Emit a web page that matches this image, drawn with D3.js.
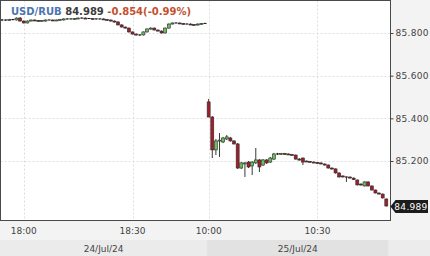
<!DOCTYPE html>
<html>
<head>
<meta charset="utf-8">
<script src="https://cdn.jsdelivr.net/npm/d3@7"></script>
<style>
  body { margin: 0; background: #f3f3f3; }
  svg { display: block; font-family: "DejaVu Sans", sans-serif; }
  .tick text { fill: #444; font-size: 9px; }
</style>
</head>
<body>
<div id="chart"></div>
<script>
// minute candles, two sessions (24/Jul evening, 25/Jul morning)
const times = [
  "17:54","17:55","17:56","17:57","17:58","17:59","18:00","18:01","18:02","18:03",
  "18:04","18:05","18:06","18:07","18:08","18:09","18:10","18:11","18:12","18:13",
  "18:14","18:15","18:16","18:17","18:18","18:19","18:20","18:21","18:22","18:23",
  "18:24","18:25","18:26","18:27","18:28","18:29","18:30","18:31","18:32","18:33",
  "18:34","18:35","18:36","18:37","18:38","18:39","18:40","18:41","18:42","18:43",
  "18:44","18:45","18:46","18:47","18:48","18:49","18:50",
  "10:00","10:01","10:02","10:03","10:04","10:05","10:06","10:07","10:08","10:09",
  "10:10","10:11","10:12","10:13","10:14","10:15","10:16","10:17","10:18","10:19",
  "10:20","10:21","10:22","10:23","10:24","10:25","10:26","10:27","10:28","10:29",
  "10:30","10:31","10:32","10:33","10:34","10:35","10:36","10:37","10:38","10:39",
  "10:40","10:41","10:42","10:43","10:44","10:45","10:46","10:47","10:48","10:49"
];
const sessionDays = ["24/Jul/24", "25/Jul/24"];

const opens = [
  85.861,85.861,85.861,85.863,85.861,85.870,85.856,85.847,85.856,85.861,
  85.859,85.856,85.856,85.861,85.861,85.859,85.861,85.861,85.866,85.866,
  85.866,85.868,85.870,85.870,85.868,85.868,85.866,85.866,85.866,85.863,
  85.861,85.856,85.852,85.838,85.828,85.823,85.805,85.795,85.791,85.791,
  85.805,85.819,85.823,85.814,85.809,85.800,85.823,85.842,85.847,85.847,
  85.845,85.842,85.842,85.840,85.838,85.842,85.845,
  85.477,85.406,85.252,85.294,85.289,85.303,85.308,85.294,85.280,85.167,
  85.186,85.195,85.177,85.191,85.205,85.181,85.205,85.195,85.209,85.233,
  85.233,85.235,85.233,85.230,85.228,85.209,85.214,85.200,85.198,85.195,
  85.193,85.191,85.186,85.181,85.167,85.163,85.144,85.130,85.125,85.125,
  85.120,85.111,85.092,85.083,85.102,85.083,85.064,85.050,85.045,85.022
];
const highs = [
  85.866,85.863,85.866,85.866,85.873,85.875,85.859,85.859,85.863,85.863,
  85.861,85.861,85.863,85.863,85.863,85.863,85.866,85.868,85.868,85.868,
  85.870,85.873,85.873,85.873,85.870,85.870,85.868,85.868,85.868,85.866,
  85.863,85.859,85.854,85.840,85.830,85.826,85.807,85.798,85.793,85.807,
  85.821,85.826,85.826,85.816,85.812,85.826,85.845,85.849,85.849,85.849,
  85.847,85.845,85.845,85.842,85.845,85.847,85.847,
  85.491,85.411,85.303,85.331,85.313,85.322,85.313,85.298,85.284,85.195,
  85.195,85.200,85.200,85.261,85.209,85.209,85.209,85.219,85.238,85.238,
  85.238,85.238,85.235,85.233,85.230,85.214,85.216,85.202,85.200,85.198,
  85.195,85.193,85.188,85.184,85.170,85.165,85.146,85.132,85.127,85.127,
  85.123,85.113,85.095,85.104,85.104,85.085,85.066,85.052,85.048,85.024
];
const lows = [
  85.856,85.856,85.859,85.859,85.859,85.854,85.845,85.845,85.854,85.856,
  85.854,85.854,85.854,85.859,85.856,85.856,85.859,85.859,85.863,85.863,
  85.863,85.866,85.868,85.866,85.866,85.863,85.863,85.863,85.861,85.859,
  85.854,85.849,85.835,85.826,85.821,85.802,85.793,85.788,85.786,85.788,
  85.802,85.816,85.812,85.807,85.798,85.798,85.821,85.840,85.845,85.842,
  85.840,85.840,85.838,85.835,85.835,85.840,85.842,
  85.406,85.214,85.228,85.219,85.284,85.298,85.291,85.277,85.163,85.163,
  85.125,85.167,85.134,85.186,85.148,85.177,85.186,85.191,85.205,85.228,
  85.230,85.230,85.228,85.226,85.207,85.202,85.181,85.195,85.193,85.191,
  85.188,85.184,85.179,85.165,85.160,85.141,85.123,85.123,85.102,85.118,
  85.111,85.085,85.085,85.081,85.081,85.062,85.048,85.043,85.024,84.987
];
const closes = [
  85.861,85.861,85.863,85.863,85.870,85.856,85.847,85.856,85.861,85.859,
  85.856,85.859,85.861,85.861,85.859,85.861,85.863,85.866,85.866,85.866,
  85.868,85.870,85.870,85.868,85.868,85.866,85.866,85.866,85.863,85.861,
  85.856,85.852,85.838,85.828,85.823,85.805,85.795,85.791,85.791,85.805,
  85.819,85.823,85.814,85.809,85.800,85.823,85.842,85.847,85.847,85.845,
  85.842,85.842,85.840,85.838,85.842,85.845,85.845,
  85.406,85.252,85.294,85.298,85.308,85.313,85.294,85.280,85.167,85.191,
  85.191,85.172,85.195,85.205,85.172,85.205,85.191,85.214,85.233,85.233,
  85.235,85.233,85.230,85.228,85.209,85.205,85.195,85.198,85.195,85.193,
  85.191,85.186,85.181,85.167,85.163,85.144,85.125,85.125,85.125,85.120,
  85.113,85.088,85.088,85.102,85.083,85.064,85.050,85.045,85.027,84.989
];

const yTicks = [85.2, 85.4, 85.6, 85.8];
const xTickLabels = ["18:00", "18:30", "10:00", "10:30"];
const symbol = "USD/RUB";
const prevClose = 85.843;

const W = 430, H = 256;
const plot = { left: 0.5, top: 0.5, right: 390.5, bottom: 220.5 };

const candles = times.map((t, i) => ({ i: i, t: t, o: opens[i], h: highs[i], l: lows[i], c: closes[i] }));

// session start indices (where the clock goes back)
const starts = [0];
times.forEach((t, i) => { if (i > 0 && t < times[i - 1]) starts.push(i); });

// plain hyphen instead of unicode minus
const fmt = spec => v => d3.format(spec)(v).replace("\u2212", "-");

const svg = d3.select("#chart").append("svg")
    .attr("width", W)
    .attr("height", H);

svg.append("rect").attr("width", W).attr("height", H).attr("fill", "#f3f3f3");

const x = d3.scaleLinear()
    .domain([0, times.length - 1])
    .range([2, 386.3]);

const y = d3.scaleLinear()
    .domain([85.2, 85.8])
    .range([161, 33]);

// date band
svg.append("rect")
    .attr("x", 0).attr("y", 240).attr("width", W).attr("height", 16)
    .attr("fill", "#ececec");
starts.forEach((s, k) => {
    const x0 = k === 0 ? 0 : x(s) - 1.5;
    const x1 = k + 1 < starts.length ? x(starts[k + 1]) - 1.5 : x(times.length - 1) + 2;
    svg.append("rect")
        .attr("x", x0).attr("y", 240).attr("width", x1 - x0).attr("height", 16)
        .attr("fill", k % 2 === 0 ? "#ebebeb" : "#e2e2e2");
    svg.append("text")
        .attr("x", (x0 + x1) / 2)
        .attr("y", 252)
        .attr("text-anchor", "middle")
        .style("font-size", "9px")
        .style("fill", "#444")
        .text(sessionDays[k]);
});

// plot background
svg.append("rect")
    .attr("x", plot.left).attr("y", plot.top)
    .attr("width", plot.right - plot.left).attr("height", plot.bottom - plot.top)
    .attr("fill", "#fff");

// grid
const tickIdx = xTickLabels.map(l => times.indexOf(l));
svg.append("g")
    .selectAll("line")
    .data(yTicks)
    .enter()
    .append("line")
    .attr("x1", plot.left).attr("x2", plot.right)
    .attr("y1", d => Math.round(y(d)) + 0.5).attr("y2", d => Math.round(y(d)) + 0.5)
    .attr("stroke", "#dedede")
    .style("stroke-dasharray", "2,2");
svg.append("g")
    .selectAll("line")
    .data(tickIdx)
    .enter()
    .append("line")
    .attr("x1", d => Math.round(x(d)) + 0.5).attr("x2", d => Math.round(x(d)) + 0.5)
    .attr("y1", plot.top).attr("y2", plot.bottom)
    .attr("stroke", "#dedede")
    .style("stroke-dasharray", "2,2");

// candles
const cg = svg.append("g");
const bodyW = 3;
cg.selectAll("line.wick")
    .data(candles)
    .enter()
    .append("line")
    .attr("class", "wick")
    .attr("x1", d => x(d.i)).attr("x2", d => x(d.i))
    .attr("y1", d => y(d.h)).attr("y2", d => y(d.l))
    .attr("stroke", "#222")
    .attr("stroke-width", 0.9);

cg.selectAll("rect.body")
    .data(candles.filter(d => d.c !== d.o))
    .enter()
    .append("rect")
    .attr("class", "body")
    .attr("x", d => x(d.i) - bodyW / 2)
    .attr("y", d => y(Math.max(d.o, d.c)))
    .attr("width", bodyW)
    .attr("height", d => Math.max(1, Math.abs(y(d.o) - y(d.c))))
    .attr("fill", d => d.c > d.o ? "#6cc05c" : "#a31f28")
    .attr("stroke", "#2a2a2a")
    .attr("stroke-width", 0.6);

cg.selectAll("line.flat")
    .data(candles.filter(d => d.c === d.o))
    .enter()
    .append("line")
    .attr("class", "flat")
    .attr("x1", d => x(d.i) - bodyW / 2).attr("x2", d => x(d.i) + bodyW / 2)
    .attr("y1", d => y(d.c)).attr("y2", d => y(d.c))
    .attr("stroke", "#111")
    .attr("stroke-width", 1);

// frame
svg.append("rect")
    .attr("x", plot.left).attr("y", plot.top)
    .attr("width", plot.right - plot.left).attr("height", plot.bottom - plot.top)
    .attr("fill", "none")
    .attr("stroke", "#4a4a4a");

// right axis
const yAxis = svg.append("g")
    .attr("transform", `translate(${plot.right},0)`)
    .call(d3.axisRight(y).tickValues(yTicks).tickFormat(fmt(".3f")).tickSize(3).tickPadding(2));
yAxis.select(".domain").remove();
yAxis.selectAll(".tick line").attr("stroke", "#444");
yAxis.selectAll("text").style("font-family", "DejaVu Sans").style("letter-spacing", "0.3px");

// bottom time labels
svg.append("g")
    .selectAll("text")
    .data(tickIdx)
    .enter()
    .append("text")
    .attr("x", d => x(d))
    .attr("y", 234)
    .attr("text-anchor", "middle")
    .style("font-size", "9px")
    .style("fill", "#444")
    .text(d => times[d]);

// last price marker
const last = closes[closes.length - 1];
const ly = Math.round(y(last)) + 0.5;
svg.append("path")
    .attr("d", `M${plot.right},${ly} L${plot.right + 5},${ly - 6.5} L428,${ly - 6.5} L428,${ly + 6.5} L${plot.right + 5},${ly + 6.5} Z`)
    .attr("fill", "#1c1c1c");
svg.append("text")
    .attr("x", 411)
    .attr("y", ly + 3.5)
    .attr("text-anchor", "middle")
    .style("font-size", "9px")
    .style("fill", "#fff")
    .style("letter-spacing", "0.3px")
    .text(fmt(".3f")(last));

// title / quote
const chg = last - prevClose;
const legend = svg.append("text")
    .attr("x", 11)
    .attr("y", 15)
    .style("font-size", "10px")
    .style("font-weight", "bold");
legend.append("tspan").style("fill", "#4d74b0").text(symbol + " ");
legend.append("tspan").style("fill", "#3c3c3c").text(fmt(".3f")(last) + " ");
legend.append("tspan").style("fill", "#c4502e")
    .text(fmt(".3f")(chg) + "(" + fmt(".2f")(chg / prevClose * 100) + "%)");
</script>
</body>
</html>
